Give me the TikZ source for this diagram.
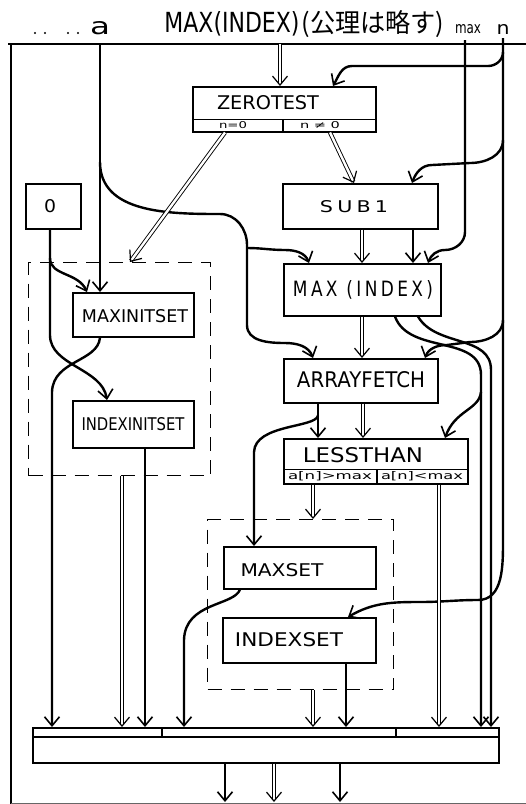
\documentclass[tikz,border=0pt]{standalone}
\usepackage{fontspec}
\usepackage{graphicx}
\setmainfont{DejaVu Sans}
\newfontfamily\jpfont{Noto Sans CJK JP}
\newfontfamily\spacedfont[LetterSpace=20]{DejaVu Sans}
\usetikzlibrary{arrows.meta,calc}
\newcommand\fitlab[3]{\resizebox{#1pt}{#2pt}{#3}}
\tikzset{
  box/.style={draw, line width=1.5pt, rectangle, inner sep=0pt, anchor=north west},
  grp/.style={draw, line width=1.4pt, dash pattern=on 14pt off 9pt, rectangle, inner sep=0pt, anchor=north west},
  lab/.style={inner sep=0pt, font=\fontsize{20}{20}\selectfont},
  tip/.style={-{Straight Barb[length=9pt,width=15pt,line width=1.6pt]}},
  data/.style={line width=2.4pt, tip},
  dline/.style={line width=2.4pt},
  ctrl/.style={double, double distance=2.4pt, line width=0.9pt, -{Straight Barb[length=9pt,width=15pt,line width=1.2pt]}},
  sep/.style={line width=1.4pt},
  frame/.style={line width=1.5pt}
}
\begin{document}
\begin{tikzpicture}[x=1pt,y=-1pt]
\useasboundingbox (0,0) rectangle (526,804);
% frame
\draw[frame] (8,44) -- (526,44);
\draw[frame] (11,44) -- (11,804);
\draw[line width=1pt, black!60] (11,803) -- (526,803);

% header texts
\foreach \dx in {35,45,68,78} \fill (\dx,33) circle (1.2);
\node[lab] (ha) at (100,28) {\fitlab{20}{13}{a}};
\node[lab] (hmx) at (232,24) {\fitlab{135}{21}{MAX(INDEX)}};
\node[lab] (hjp) at (373,24) {\fitlab{143}{22}{\jpfont (公理は略す)}};
\node[lab] (hmax) at (468,29) {\fitlab{26}{9}{max}};
\node[lab] (hn) at (503,29) {\fitlab{13}{10}{n}};

\coordinate (ain) at (100,44);
\coordinate (mxhd) at (280,44);
\coordinate (maxin) at (465,40);
\coordinate (nin) at (503,38);

% boxes
\node[box, minimum width=55pt, minimum height=45pt] (zero) at (25,183) {};
\node[box, minimum width=121pt, minimum height=44pt] (mis) at (72,292) {};
\node[box, minimum width=121pt, minimum height=47pt] (iis) at (72,400) {};
\node[box, minimum width=183pt, minimum height=45pt] (zt) at (192,86) {};
\node[box, minimum width=155pt, minimum height=45pt] (sub) at (282,183) {};
\node[box, minimum width=157pt, minimum height=52pt] (mx) at (283,263) {};
\node[box, minimum width=154pt, minimum height=44pt] (af) at (283,358) {};
\node[box, minimum width=184pt, minimum height=45pt] (lt) at (283,438) {};
\node[box, minimum width=152pt, minimum height=42pt] (ms) at (223,546) {};
\node[box, minimum width=153pt, minimum height=45pt] (is) at (222,617) {};
\node[box, minimum width=466pt, minimum height=35pt] (bot) at (32,727) {};
\node[grp, minimum width=182pt, minimum height=213pt] (d1) at (28,262) {};
\node[grp, minimum width=186pt, minimum height=170pt] (d2) at (207,519) {};

% inner separators
\draw[sep] ($(zt.south west)+(0,-13)$) -- ($(zt.south east)+(0,-13)$);
\draw[sep] ($(zt.south west)+(91,0)$) -- ($(zt.south west)+(91,-13)$);
\draw[sep] ($(lt.south west)+(0,-15)$) -- ($(lt.south east)+(0,-15)$);
\draw[sep] ($(lt.south west)+(94,0)$) -- ($(lt.south west)+(94,-15)$);
\draw[sep] ($(bot.north west)+(0,10)$) -- ($(bot.north east)+(0,10)$);
\draw[sep] ($(bot.north west)+(130,0)$) -- ($(bot.north west)+(130,10)$);
\draw[sep] ($(bot.north west)+(364,0)$) -- ($(bot.north west)+(364,10)$);

% labels
\node[lab] (lzt) at (268,103) {\fitlab{102}{14}{ZEROTEST}};
\node[lab] (lz0) at (233,125) {\fitlab{28}{7}{n=0}};
\node[lab] (lz1) at (320,125) {\fitlab{40}{7}{n ≠ 0}};
\node[lab] (l0) at (50,206) {\fitlab{12}{13}{0}};
\node[lab] (lsub) at (354,207) {\fitlab{68}{12}{\spacedfont SUB1}};
\node[lab] (lmx) at (363,290) {\fitlab{140}{16}{\spacedfont MAX (INDEX)}};
\node[lab] (lmis) at (135,316) {\fitlab{106}{13}{MAXINITSET}};
\node[lab] (liis) at (133,424) {\fitlab{103}{13}{INDEXINITSET}};
\node[lab] (laf) at (361,380) {\fitlab{128}{16}{ARRAYFETCH}};
\node[lab] (llt) at (363,455) {\fitlab{120}{15}{LESSTHAN}};
\node[lab] (llt0) at (330,476) {\fitlab{84}{8}{a[n]>max}};
\node[lab] (llt1) at (422,476) {\fitlab{82}{8}{a[n]<max}};
\node[lab] (lms) at (282,570) {\fitlab{83}{13}{MAXSET}};
\node[lab] (lis) at (289,640) {\fitlab{108}{14}{INDEXSET}};

% header inputs
\draw[ctrl] (mxhd) -- ($(zt.north west)+(88,0)$);
\draw[data] (ain) -- ($(mis.north west)+(28,0)$);
\draw[dline] ($(ain)+(0,118)$) to[out=-90,in=180] (220,214) to[out=0,in=90] (247,245) -- (247,325) to[out=-90,in=180] (285,343);
\draw[data] (285,343) to[out=0,in=110] ($(af.north west)+(30,0)$);
\draw[data] (247,248) to[out=0,in=180] (285,250) to[out=0,in=110] ($(mx.north west)+(26,0)$);

% n line and branches
\draw[data] (nin) -- (503,540) to[out=-90,in=0] (478,600) to[out=180,in=0] (420,602) to[out=180,in=30] ($(is.north west)+(126,0)$);
\draw[data] ($(nin)+(0,14)$) to[out=-90,in=0] (488,66) -- (352,66) to[out=180,in=60] ($(zt.north west)+(141,0)$);
\draw[data] ($(nin)+(0,102)$) to[out=-90,in=0] (470,163) -- (432,165) to[out=180,in=70] ($(sub.north west)+(130,0)$);
\draw[data] ($(nin)+(0,282)$) to[out=-90,in=0] (470,342) -- (447,345) to[out=180,in=70] ($(af.north west)+(142,0)$);

% max line
\draw[data] (maxin) -- (465,232) to[out=-90,in=0] (445,250) to[out=180,in=70] ($(mx.north west)+(145,0)$);

% ZEROTEST outputs
\draw[ctrl] ($(zt.south west)+(33,0)$) -- ($(d1.north west)+(102,0)$);
\draw[ctrl] ($(zt.south west)+(138,0)$) -- ($(sub.north west)+(72,0)$);

% SUB1 -> MAX(INDEX)
\draw[ctrl] ($(sub.south west)+(80,0)$) -- ($(mx.north west)+(79,0)$);
\draw[data] ($(sub.south west)+(131,0)$) -- ($(mx.north west)+(130,0)$);

% MAX(INDEX) -> ARRAYFETCH and outputs
\draw[ctrl] ($(mx.south west)+(79,0)$) -- ($(af.north west)+(79,0)$);
\draw[data] ($(mx.south west)+(112,0)$) to[out=-70,in=90] (481,375) -- ($(bot.north west)+(449,0)$);
\draw[data] ($(mx.south west)+(135,0)$) to[out=-60,in=90] (491,370) -- ($(bot.north west)+(459,0)$);
\draw[data] (481,392) .. controls (479,410) and (455,410) .. ($(lt.north west)+(162,0)$);

% ARRAYFETCH outputs
\draw[ctrl] ($(af.south west)+(80,0)$) -- ($(lt.north west)+(80,0)$);
\draw[data] ($(af.south west)+(35,0)$) -- ($(lt.north west)+(35,0)$);
\draw[data] ($(af.south west)+(35,12)$) .. controls (316,428) and (255,424) .. (254,452) -- ($(ms.north west)+(31,0)$);

% LESSTHAN outputs
\draw[ctrl] ($(lt.south west)+(30,0)$) -- ($(d2.north west)+(106,0)$);
\draw[ctrl] ($(lt.south west)+(156,0)$) -- ($(bot.north west)+(407,0)$);

% MAXSET, INDEXSET, group 2
\draw[data] ($(ms.south west)+(17,0)$) .. controls (234,606) and (185,602) .. (184,640) -- ($(bot.north west)+(152,0)$);
\draw[data] ($(is.south west)+(124,0)$) -- ($(bot.north west)+(314,0)$);
\draw[ctrl] ($(d2.south west)+(106,0)$) -- ($(bot.north west)+(281,0)$);

% left group
\draw[ctrl] ($(d1.south west)+(94,0)$) -- ($(bot.north west)+(90,0)$);
\draw[data] ($(iis.south west)+(73,0)$) -- ($(bot.north west)+(113,0)$);
\draw[data] ($(mis.south west)+(28,0)$) .. controls (98,362) and (53,360) .. (52,392) -- ($(bot.north west)+(20,0)$);
\draw[data] ($(zero.south west)+(25,0)$) -- (50,258) .. controls (50,276) and (78,272) .. ($(mis.north west)+(15,0)$);
\draw[data] (50,258) -- (50,335) .. controls (50,366) and (102,368) .. ($(iis.north west)+(35,0)$);

% bottom outputs
\coordinate (o1) at (225,802);
\coordinate (o2) at (274,802);
\coordinate (o3) at (340,802);
\draw[data] ($(bot.south west)+(193,0)$) -- (o1);
\draw[ctrl] ($(bot.south west)+(242,0)$) -- (o2);
\draw[data] ($(bot.south west)+(308,0)$) -- (o3);
\end{tikzpicture}
\end{document}
